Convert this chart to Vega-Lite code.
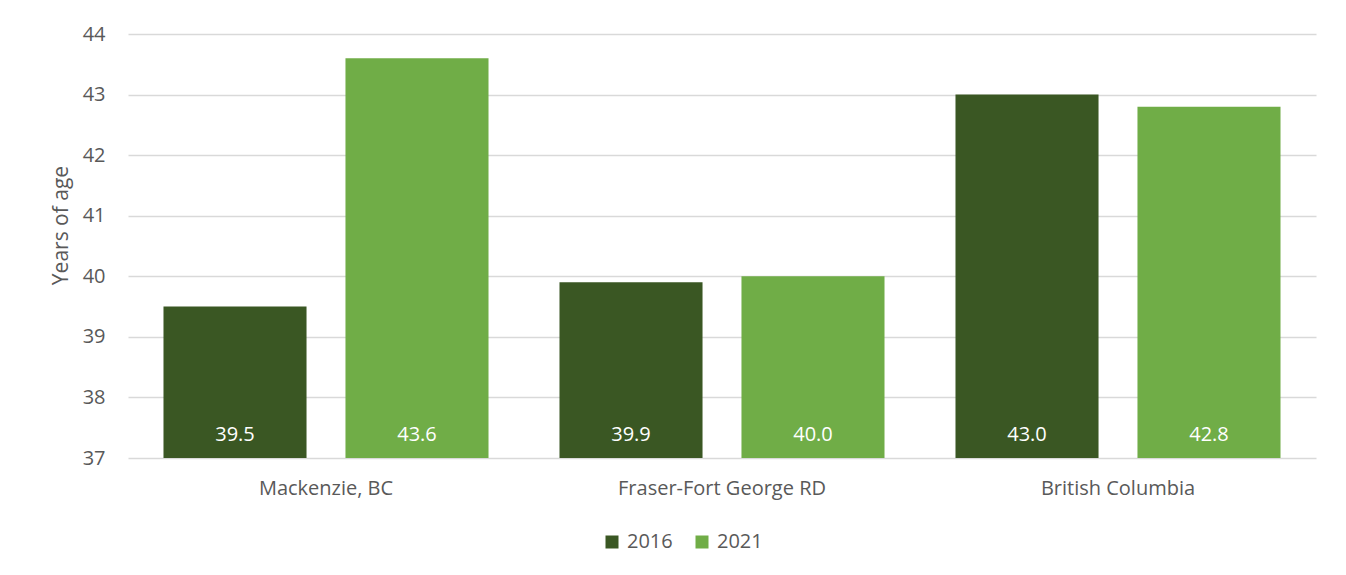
{
  "$schema": "https://vega.github.io/schema/vega-lite/v6.json",
  "width": 1188,
  "height": 424,
  "autosize": "none",
  "padding": {"left": 128, "top": 34, "right": 30, "bottom": 117},
  "background": "white",
  "config": {
    "font": "Open Sans",
    "view": {"stroke": null},
    "axis": {"labelColor": "#595959", "titleColor": "#595959", "labelFont": "Open Sans", "titleFont": "Open Sans", "titleFontWeight": "normal"},
    "legend": {"labelColor": "#595959", "labelFont": "Open Sans"}
  },
  "data": {
    "values": [
      {"region": "Mackenzie, BC", "year": "2016", "age": 39.5},
      {"region": "Mackenzie, BC", "year": "2021", "age": 43.6},
      {"region": "Fraser-Fort George RD", "year": "2016", "age": 39.9},
      {"region": "Fraser-Fort George RD", "year": "2021", "age": 40.0},
      {"region": "British Columbia", "year": "2016", "age": 43.0},
      {"region": "British Columbia", "year": "2021", "age": 42.8}
    ]
  },
  "encoding": {
    "x": {
      "field": "region",
      "type": "nominal",
      "sort": ["Mackenzie, BC", "Fraser-Fort George RD", "British Columbia"],
      "scale": {"paddingInner": 0, "paddingOuter": 0},
      "axis": {"title": null, "labelAngle": 0, "labelFontSize": 20, "labelPadding": 20, "labelLimit": 0, "ticks": false, "domain": false}
    },
    "xOffset": {
      "field": "year",
      "type": "nominal",
      "scale": {"paddingInner": 0.214, "paddingOuter": 0.195}
    }
  },
  "layer": [
    {
      "mark": {"type": "bar", "clip": true},
      "encoding": {
        "y": {
          "field": "age",
          "type": "quantitative",
          "scale": {"domain": [37, 44], "zero": false, "nice": false},
          "axis": {
            "title": "Years of age",
            "titleFontSize": 21,
            "titleAngle": -90,
            "titleAlign": "center",
            "titleBaseline": "bottom",
            "titleX": -57,
            "titleY": 191,
            "values": [37, 38, 39, 40, 41, 42, 43, 44],
            "format": "d",
            "labelFontSize": 20,
            "labelPadding": 23,
            "ticks": false,
            "domain": false,
            "grid": true,
            "gridColor": "#d9d9d9",
            "gridWidth": 1.3
          }
        },
        "y2": {"datum": 37},
        "color": {
          "field": "year",
          "type": "nominal",
          "scale": {"domain": ["2016", "2021"], "range": ["#3a5723", "#70ad47"]},
          "legend": {
            "title": null,
            "orient": "none",
            "legendX": 474,
            "legendY": 498,
            "direction": "horizontal",
            "symbolType": "square",
            "symbolSize": 169,
            "symbolStrokeWidth": 0,
            "labelFontSize": 20,
            "labelOffset": 5,
            "columnPadding": 19,
            "padding": 0
          }
        }
      }
    },
    {
      "mark": {"type": "text", "color": "white", "fontSize": 20, "baseline": "alphabetic", "dy": -17},
      "encoding": {
        "y": {"datum": 37, "type": "quantitative"},
        "text": {"field": "age", "type": "quantitative", "format": ".1f"}
      }
    }
  ]
}
